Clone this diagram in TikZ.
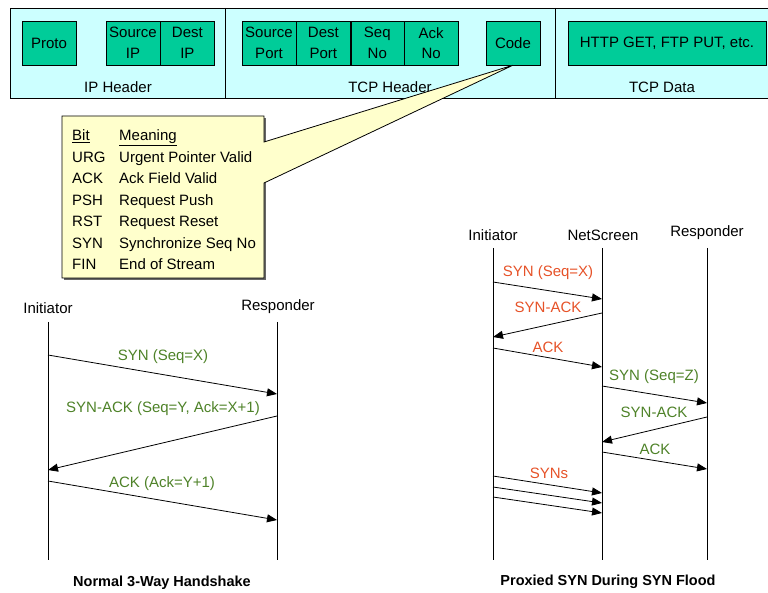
\documentclass[tikz,border=0pt]{standalone}
\usepackage{fontspec}
\setmainfont{Liberation Sans}
\usetikzlibrary{arrows.meta,positioning}
\definecolor{bandcyan}{RGB}{204,255,255}
\definecolor{fieldgreen}{RGB}{0,204,153}
\definecolor{noteyellow}{RGB}{255,255,204}
\definecolor{synred}{RGB}{230,82,40}
\definecolor{synokgreen}{RGB}{78,130,40}
\newcommand{\pxfont}{\fontsize{15}{20.5}\selectfont}
\newcommand{\titlefont}{\fontsize{14.5}{17}\selectfont\bfseries}
\tikzset{
  field/.style={draw, fill=fieldgreen, minimum height=44pt, minimum width=54pt,
    inner sep=0pt, align=center, font=\pxfont},
  bandlbl/.style={font=\pxfont, inner sep=0pt},
  life/.style={line width=0.8pt},
  msg/.style={line width=0.8pt, -{Triangle[length=10pt,width=8pt]}},
  msglbl/.style={font=\pxfont, inner sep=0pt},
  actor/.style={font=\pxfont, inner sep=0pt},
}
\begin{document}
\begin{tikzpicture}[x=1pt,y=-1pt]
  \useasboundingbox (0,0) rectangle (768,593);
  % packet band
  \draw[fill=bandcyan, line width=0.8pt] (10,8) rectangle (770,98);
  \draw[line width=0.8pt] (225,8) -- (225,98);
  \draw[line width=0.8pt] (555,8) -- (555,98);
  \node[field] (proto) at (49,43) {Proto};
  \node[field] (srcip) at (133,43) {Source\\IP};
  \node[field, right=0pt of srcip] (dstip) {Dest\\IP};
  \node[field] (sport) at (269,43) {Source\\Port};
  \node[field, right=0pt of sport] (dport) {Dest\\Port};
  \node[field, right=0pt of dport, minimum width=53pt] (seqno) {Seq\\No};
  \node[field, right=0pt of seqno] (ackno) {Ack\\No};
  \node[field] (code) at (513,43) {Code};
  \node[field, minimum width=198pt] (data) at (667,43) {HTTP GET, FTP PUT, etc.};
  \node[bandlbl] (iphdr) at (118,87) {IP Header};
  \node[bandlbl] (tcphdr) at (390,87) {TCP Header};
  \node[bandlbl] (tcpdata) at (662,87) {TCP Data};
  % callout for the code bits
  \fill[black!60] (64,118) rectangle (266,280);
  \draw[fill=noteyellow, line width=0.8pt] (62,116) -- (264,116) -- (264,142)
    -- (code.south) -- (264,183) -- (264,278) -- (62,278) -- cycle;
  \node[anchor=north west, inner sep=0pt, font=\pxfont] (bits) at (72,125.5) {%
    \fontsize{15}{21.5}\selectfont
    \begin{tabular}{@{}p{47pt}@{}l@{}}
      \underline{Bit} & \underline{Meaning}\\
      URG & Urgent Pointer Valid\\
      ACK & Ack Field Valid\\
      PSH & Request Push\\
      RST & Request Reset\\
      SYN & Synchronize Seq No\\
      FIN & End of Stream
    \end{tabular}};
  % normal handshake
  \node[actor] (ini) at (48,308) {Initiator};
  \node[actor] (resp) at (278,307) {Responder};
  \coordinate (iniT) at (48,322);  \coordinate (iniB) at (48,560);
  \coordinate (respT) at (277,322); \coordinate (respB) at (277,560);
  \draw[life] (iniT) -- (iniB);
  \draw[life] (respT) -- (respB);
  \draw[msg] (iniT |- 0,355) -- (respT |- 0,394);
  \draw[msg] (respT |- 0,416) -- (iniT |- 0,470);
  \draw[msg] (iniT |- 0,481) -- (respT |- 0,520);
  \node[msglbl, synokgreen] (syn) at (163,357) {SYN (Seq=X)};
  \node[msglbl, synokgreen] (synack) at (163,409) {SYN-ACK (Seq=Y, Ack=X+1)};
  \node[msglbl, synokgreen] (ack) at (162,484) {ACK (Ack=Y+1)};
  \node[font=\titlefont, inner sep=0pt] (normal) at (162,583) {Normal 3-Way Handshake};
  % proxied handshake
  \node[actor] (pini) at (493,235) {Initiator};
  \node[actor] (pns) at (603,235) {NetScreen};
  \node[actor] (presp) at (707,233) {Responder};
  \coordinate (piniT) at (493,248);  \coordinate (piniB) at (493,560);
  \coordinate (pnsT) at (602,248);   \coordinate (pnsB) at (602,560);
  \coordinate (prespT) at (707,248); \coordinate (prespB) at (707,560);
  \draw[life] (piniT) -- (piniB);
  \draw[life] (pnsT) -- (pnsB);
  \draw[life] (prespT) -- (prespB);
  \draw[msg] (piniT |- 0,282) -- (pnsT |- 0,299);
  \draw[msg] (pnsT |- 0,313) -- (piniT |- 0,337);
  \draw[msg] (piniT |- 0,348) -- (pnsT |- 0,367);
  \draw[msg] (pnsT |- 0,386) -- (prespT |- 0,403);
  \draw[msg] (prespT |- 0,417) -- (pnsT |- 0,442);
  \draw[msg] (pnsT |- 0,452) -- (prespT |- 0,469);
  \foreach \ya/\yb in {476/493, 487/503, 497/513}
    \draw[msg] (piniT |- 0,\ya) -- (pnsT |- 0,\yb);
  \node[msglbl, synred] (psyn) at (548,273) {SYN (Seq=X)};
  \node[msglbl, synred] (psynack) at (548,307) {SYN-ACK};
  \node[msglbl, synred] (pack) at (548,347) {ACK};
  \node[msglbl, synokgreen] (nsyn) at (654,377) {SYN (Seq=Z)};
  \node[msglbl, synokgreen] (nsynack) at (654,412) {SYN-ACK};
  \node[msglbl, synokgreen] (nack) at (655,449) {ACK};
  \node[msglbl, synred] (syns) at (549,473) {SYNs};
  \node[font=\titlefont, inner sep=0pt] (proxied) at (608,582) {Proxied SYN During SYN Flood};
\end{tikzpicture}
\end{document}
